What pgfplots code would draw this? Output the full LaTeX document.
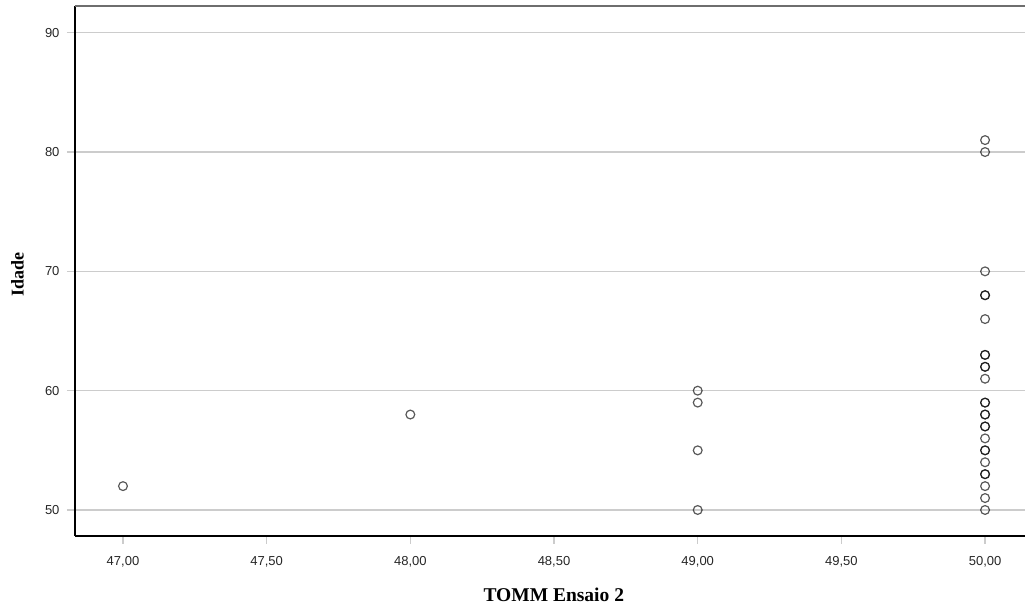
\documentclass[border=0pt]{standalone}
\usepackage{fontspec}
\setmainfont{Liberation Serif}
\setsansfont{Liberation Sans}
\usepackage{pgfplots}
\pgfplotsset{compat=1.18}
\definecolor{gridgray}{HTML}{CCCCCC}
\definecolor{topgray}{HTML}{6E6E6E}
\begin{document}
\begin{tikzpicture}
\useasboundingbox (-75pt,-73pt) rectangle (950pt,536pt);
\begin{axis}[
  at={(0,0)}, anchor=origin,
  scale only axis,
  width=950pt, height=530pt,
  xmin=46.833, xmax=50.139,
  ymin=47.82, ymax=92.24,
  xtick={47,47.5,48,48.5,49,49.5,50},
  ytick={50,60,70,80,90},
  axis x line*=bottom, axis y line*=left,
  axis line style={black, line width=1.3pt, -},
  tick align=outside,
  major tick length=8pt,
  tick style={gridgray, line width=1.2pt},
  ymajorgrids,
  grid style={gridgray, line width=1.2pt},
  /pgf/number format/assume math mode=true,
  tick label style={font=\sffamily\fontsize{13}{15}\selectfont, text=black!85},
  xticklabel style={yshift=-9pt, /pgf/number format/.cd, fixed, fixed zerofill, precision=2, use comma},
  yticklabel style={xshift=-4pt},
  xlabel={TOMM Ensaio 2},
  ylabel={Idade},
  xlabel style={font=\bfseries\fontsize{19.5}{22}\selectfont,
    at={(axis description cs:0.504,-0.111)}, anchor=center},
  ylabel style={font=\bfseries\fontsize{18}{21}\selectfont,
    at={(axis description cs:-0.0605,0.493)}, anchor=center, rotate=0},
  clip=false,
]
\addplot[only marks, mark=o, mark size=4.4pt,
  mark options={draw=black, draw opacity=0.65, line width=1.2pt}]
  coordinates {
  (47,52) (48,58)
  (49,50) (49,55) (49,59) (49,60)
  (50,50) (50,51) (50,52) (50,53) (50,53) (50,54) (50,55) (50,55)
  (50,56) (50,57) (50,57) (50,58) (50,58) (50,59) (50,59)
  (50,61) (50,62) (50,62) (50,63) (50,63) (50,66) (50,68) (50,68)
  (50,70) (50,80) (50,81)
  };
\draw[topgray, line width=2pt] (axis description cs:0,1) -- (axis description cs:1,1);
\end{axis}
\end{tikzpicture}
\end{document}
